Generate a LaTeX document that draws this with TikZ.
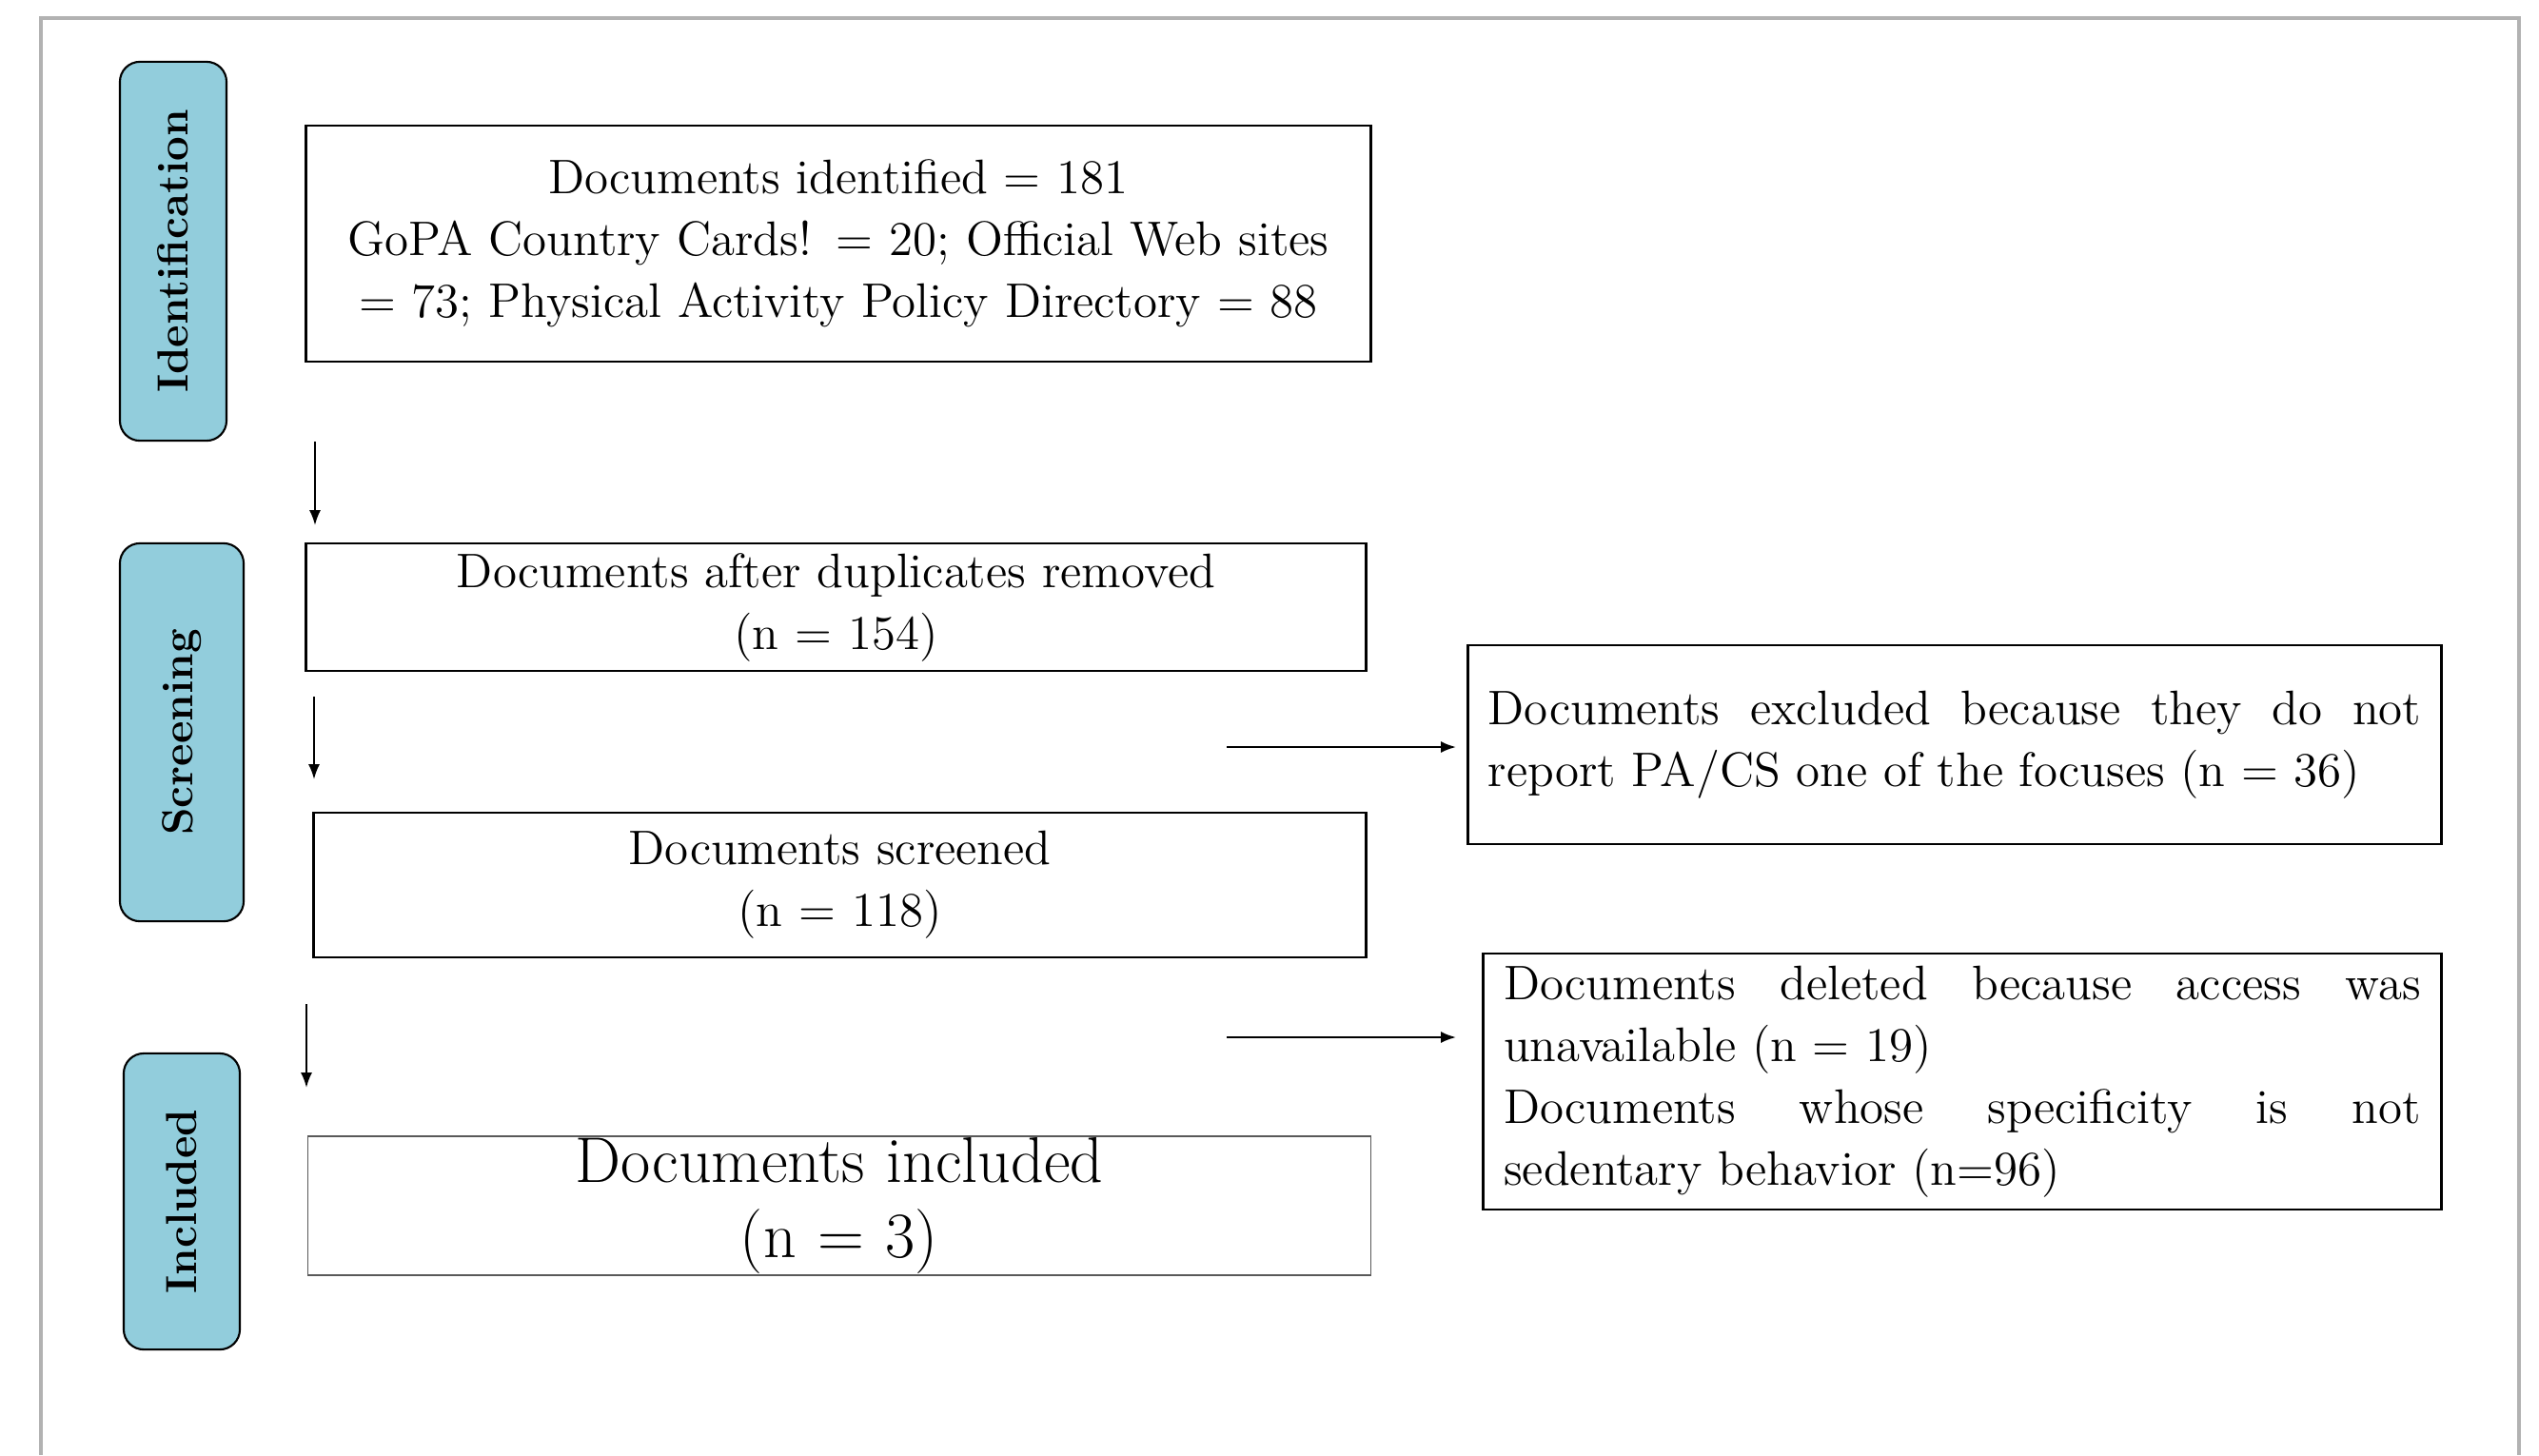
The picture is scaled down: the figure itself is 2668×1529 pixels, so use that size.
\documentclass[tikz,border=0pt]{standalone}
\usepackage{amsmath}
\usepackage{tikz}
\usetikzlibrary{arrows.meta}
\definecolor{tabblue}{RGB}{146,205,220}
\hyphenpenalty=10000

\begin{document}
\begin{tikzpicture}[x=0.01cm, y=-0.01cm,
   phase/.style={draw=black,line width=0.6pt,fill=tabblue,rounded corners=6pt,inner sep=0pt,rotate=90,font=\fontsize{13}{15}\selectfont\bfseries},
   box/.style={draw=black,line width=0.7pt,inner sep=0pt,align=center,font=\fontsize{14.5}{18.5}\selectfont},
   sidebox/.style={box,align=justify,inner ysep=0pt},
   flow/.style={line width=0.6pt,-{Latex[length=4.5pt,width=3.4pt]}}]
   \useasboundingbox (0,0) rectangle (2668,1529);
   \draw[line width=1.1pt,black!30] (43,1529) |- (2647,19) -- (2647,1529);
   \foreach \pos/\name/\disp/\len/\breadth in {{(182,264)/ident/Identification/3.98cm/1.12cm}, {(191,769.5)/screen/Screening/3.97cm/1.30cm}, {(191,1262.5)/incl/Included/3.11cm/1.22cm}}
   \node[phase,minimum width=\len,minimum height=\breadth] (\name) at \pos {\disp};
   % boxes of the flow
   \node[box,text width=11.18cm,minimum height=2.48cm] (identified) at (881,256) {Documents identified = 181\\ GoPA Country Cards! = 20; Official Web sites\\ = 73; Physical Activity Policy Directory = 88};
   \node[box,text width=11.13cm,minimum height=1.34cm] (dupl) at (878.5,638) {Documents after duplicates removed\\ (n = 154)};
   \node[box,text width=11.05cm,minimum height=1.52cm] (screened) at (882.5,930) {Documents screened\\ (n = 118)};
   \node[box,draw=black!65,line width=0.4pt,text width=11.16cm,minimum height=1.46cm,font=\fontsize{19.3}{22.4}\selectfont] (included) at (882,1267) {Documents included\\ (n = 3)};
   \node[sidebox,text width=9.80cm,inner xsep=0.21cm,minimum height=2.09cm] (excluded) at (2054,782.5) {Documents excluded because they do not\linebreak report PA/CS one of the focuses (n = 36)};
   \node[sidebox,text width=9.63cm,inner xsep=0.215cm,minimum height=2.69cm] (deleted) at (2062,1136.5) {Documents deleted because access was\linebreak unavailable (n = 19)\\ Documents whose specificity is not\linebreak sedentary behavior (n=96)};
   \coordinate (a1) at (331,464);
   \coordinate (b1) at (331,552);
   \coordinate (a2) at (330,732);
   \coordinate (b2) at (330,819);
   \coordinate (a3) at (322,1055);
   \coordinate (b3) at (322,1143);
   \coordinate (a4) at (1289,785);
   \coordinate (b4) at (1530,785);
   \coordinate (a5) at (1289,1090);
   \coordinate (b5) at (1530,1090);
   % arrows between the steps
   \draw[flow] (a1) -- (b1);
   \draw[flow] (a2) -- (b2);
   \draw[flow] (a3) -- (b3);
   \draw[flow] (a4) -- (b4);
   \draw[flow] (a5) -- (b5);
\end{tikzpicture}
\end{document}
